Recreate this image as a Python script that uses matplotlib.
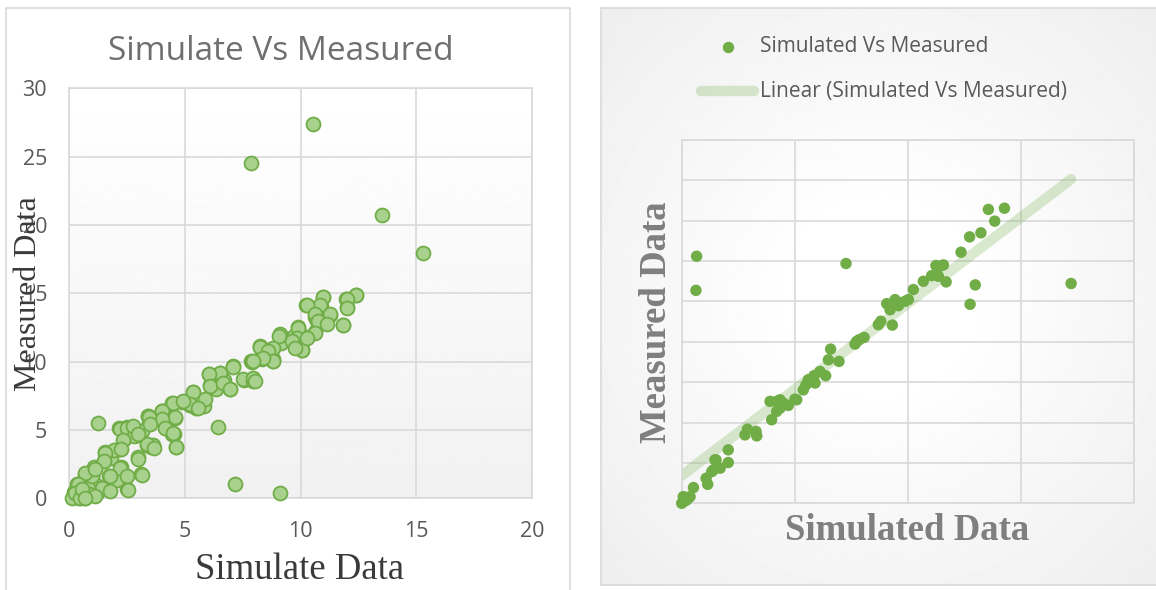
import numpy as np
import matplotlib
matplotlib.use("Agg")
import matplotlib.pyplot as plt
from matplotlib.patches import Rectangle
from matplotlib.lines import Line2D

# ---------------- data ----------------
left_title = "Simulate Vs Measured"
left_xlabel = "Simulate Data"
left_ylabel = "Measured Data"
left_xticks = [0, 5, 10, 15, 20]
left_yticks = [0, 5, 10, 15, 20, 25, 30]

left_x = [10.53, 7.87, 13.5, 15.28, 1.25, 6.43, 7.15, 9.1, 4.6, 4.46, 3.12, 2.51,
          12.4, 11.95, 12.0, 10.96, 10.88, 10.24, 10.6, 11.28, 10.72, 11.1, 11.82, 10.6,
          9.89, 9.71, 10.1, 9.09, 9.74, 10.05, 9.15, 8.24, 8.61, 8.8, 8.35, 7.87, 7.95,
          7.55, 7.07, 6.93, 6.69, 6.5, 6.06, 6.32, 6.1, 5.82, 5.34, 5.23, 5.47, 4.86, 4.46,
          4.54, 3.99, 3.98, 3.39, 3.44, 4.19, 2.94, 2.8, 2.51, 2.16, 2.35, 2.19, 2.96, 3.34,
          3.55, 3.63, 1.52, 1.55, 1.79, 1.95, 2.24, 2.46, 2.06, 1.73, 1.39, 1.07, 0.99, 0.7,
          1.15, 1.18, 0.8, 0.35, 0.19, 0.43, 0.11, 0.7,
          4.44, 5.23, 4.01, 4.58, 3.4, 3.46, 2.21, 2.49, 2.78, 2.32, 3.14, 3.36, 3.64, 4.51,
          4.61, 2.25, 1.53, 1.49, 2.97, 3.14, 2.21, 2.49, 1.77, 0.98, 0.69, 1.12, 1.41, 1.77,
          2.53, 0.38, 0.23, 0.48, 0.83, 1.12, 0.55, 0.69,
          9.11, 8.24, 8.67, 8.79, 7.89, 8.32, 7.08, 6.51, 6.06, 6.09, 6.66, 6.94, 7.52, 7.95,
          5.36, 5.86, 5.22, 5.58, 4.5, 4.93, 4.57, 3.99, 3.99, 3.46, 3.49, 4.13, 4.5, 2.77, 2.98,
          12.39, 11.99, 12.02, 10.95, 10.84, 10.26, 10.62, 11.27, 10.76, 11.13, 11.82, 10.62,
          9.89, 9.83, 9.61, 10.05, 9.75, 10.29, 9.08, 8.81, 8.24, 8.6, 8.79, 8.39, 7.95, 7.95, 8.03]
left_y = [27.39, 24.5, 20.7, 17.97, 5.5, 5.2, 1.02, 0.39, 3.77, 4.73, 1.76, 0.69,
          14.86, 14.59, 14.0, 14.75, 14.1, 14.15, 13.27, 13.4, 12.94, 12.8, 12.69, 12.17,
          12.52, 11.84, 11.84, 11.95, 11.15, 10.85, 11.34, 11.09, 10.82, 10.16, 10.32, 10.02, 8.64,
          8.67, 9.66, 7.98, 8.62, 9.17, 9.08, 8.01, 8.26, 6.74, 7.76, 6.85, 6.58, 7.07, 6.94,
          5.97, 6.39, 5.84, 6.03, 5.48, 5.15, 4.6, 4.6, 5.23, 5.15, 4.32, 3.63, 3.0, 3.91,
          3.72, 3.91, 2.72, 3.36, 2.95, 3.5, 2.31, 1.62, 1.35, 1.62, 0.74, 2.26, 1.62, 1.79,
          0.94, 0.41, 0.74, 1.02, 0.47, 0.05, 0.05, 0.05,
          6.88, 6.8, 6.39, 5.9, 6.02, 5.41, 5.1, 5.17, 4.56, 4.27, 4.92, 3.95, 3.71, 4.68,
          3.78, 3.58, 3.34, 2.73, 2.9, 1.68, 2.25, 1.63, 1.63, 1.63, 1.88, 2.12, 0.78, 0.53,
          0.61, 1.02, 0.42, 0.05, 0.29, 0.17, 0.66, 0.0,
          12.0, 11.14, 10.78, 10.04, 9.97, 10.17, 9.63, 9.2, 9.07, 8.22, 8.46, 7.97, 8.7, 8.58,
          7.78, 7.24, 6.88, 6.63, 6.95, 7.12, 5.98, 6.39, 5.78, 5.98, 5.41, 5.17, 4.8, 5.29, 4.68,
          14.85, 14.61, 13.95, 14.75, 14.12, 14.12, 13.46, 13.46, 12.97, 12.73, 12.66, 12.12,
          12.49, 11.76, 11.51, 10.85, 11.02, 11.76, 11.87, 11.02, 11.1, 10.78, 10.04, 10.29, 10.04, 8.83, 8.58]

right_series = "Simulated Vs Measured"
right_trend_label = "Linear (Simulated Vs Measured)"
right_xlabel = "Simulated Data"
right_ylabel = "Measured Data"

right_x = [0.66, 0.63, 7.27, 17.23, 13.57, 14.28, 13.85, 12.74, 13.24, 12.36, 11.25, 11.58,
           11.43, 10.69, 11.06, 11.36, 11.7, 10.25, 10.03, 9.66, 9.44, 9.07, 9.22, 12.99, 12.76,
           9.32, 8.7, 8.81, 8.07, 7.86, 7.67, 7.74, 6.59, 6.49, 6.96, 6.37, 6.12, 5.86, 5.6, 5.5,
           5.38, 5.9, 5.01, 4.72, 4.5, 4.35, 4.2, 3.91, 3.98, 3.29, 3.32, 2.91, 2.8, 2.06, 2.06,
           1.52, 1.4, 1.7, 1.08, 1.15, 0.52, 0.29, 0.19, 0.07, 0.0, 0.37, 0.15,
           9.59, 9.88, 4.35, 5.09, 4.2, 1.47, 1.33, 0.07, 0.22]
right_y = [12.24, 10.55, 11.88, 10.89, 14.56, 14.62, 13.98, 13.2, 13.4, 12.44, 11.78, 11.81,
           11.75, 11.0, 11.28, 11.25, 10.97, 10.59, 10.09, 9.93, 10.09, 9.89, 9.59, 10.82, 9.86,
           8.83, 8.85, 9.02, 8.22, 8.11, 7.89, 8.02, 7.64, 7.11, 7.03, 6.32, 6.53, 6.32, 6.12, 5.87,
           5.62, 5.96, 5.16, 4.85, 4.96, 4.71, 5.05, 5.05, 4.14, 3.56, 3.34, 3.67, 3.39, 2.65, 2.02,
           2.15, 1.65, 1.74, 1.24, 0.94, 0.78, 0.25, 0.17, 0.08, 0.0, 0.33, 0.13,
           9.79, 10.01, 5.13, 5.13, 4.55, 2.15, 1.57, 0.33, 0.17]

# ---------------- figure ----------------
W, H = 1156, 590
fig = plt.figure(figsize=(W / 100, H / 100), dpi=100)
fig.patch.set_facecolor("white")

def fx(px):
    return px / W

def fy(py):
    return 1 - py / H

GRID = "#d9d9d9"
TXT = "#595959"
SANS = ["Open Sans", "DejaVu Sans"]
SERIF = ["Liberation Serif", "DejaVu Serif"]

# left panel frame
fig.add_artist(Rectangle((fx(5.5), fy(600)), fx(570) - fx(5.5), fy(7.5) - fy(600),
                         transform=fig.transFigure, fill=False, edgecolor=GRID, lw=1.2))

# right panel background (radial gradient)
bg = fig.add_axes([fx(601), fy(585), fx(1162) - fx(601), fy(8) - fy(585)], zorder=0)
yy, xx = np.mgrid[-1:1:300j, -1:1:300j]
rr = np.sqrt(xx ** 2 + yy ** 2)
grad = np.clip(1 - 0.06 * np.clip(rr - 0.3, 0, None), 0, 1)
bg.imshow(grad, cmap="gray", vmin=0, vmax=1, extent=[0, 1, 0, 1], aspect="auto",
          interpolation="bilinear")
bg.set_xticks([]); bg.set_yticks([])
for s in bg.spines.values():
    s.set_color(GRID); s.set_linewidth(1.2)

# ---------------- left chart ----------------
axL = fig.add_axes([fx(69.3), fy(498.3), fx(532) - fx(69.3), fy(88.3) - fy(498.3)], zorder=2)
vgrad = np.linspace(0.945, 1.0, 256).reshape(-1, 1)
axL.imshow(vgrad, cmap="gray", vmin=0, vmax=1, extent=[0, 1, 0, 1], origin="lower",
           transform=axL.transAxes, aspect="auto", zorder=0, interpolation="bilinear")
axL.scatter(left_x, left_y, s=100, facecolor="#a9d18e", edgecolor="#70ad47",
            linewidths=1.3, zorder=3, clip_on=False)
axL.set_xlim(0, 20)
axL.set_ylim(0, 30)
axL.set_xticks(left_xticks)
axL.set_yticks(left_yticks)
axL.grid(True, color=GRID, lw=1.2, zorder=1)
axL.set_axisbelow(True)
axL.tick_params(length=0, labelsize=15.5, labelcolor=TXT, pad=16)
for lab in axL.get_xticklabels() + axL.get_yticklabels():
    lab.set_family(SANS)
for s in axL.spines.values():
    s.set_color(GRID); s.set_linewidth(1.2)
fig.text(fx(281), fy(51), left_title, ha="center", va="center", fontsize=24,
         color="#6f6f6f", family=SANS)
fig.text(fx(300), fy(570), left_xlabel, ha="center", va="center", fontsize=26.5,
         color="#3a3a3a", family=SERIF)
fig.text(fx(29), fy(294), left_ylabel, ha="center", va="center", fontsize=23,
         rotation=90, color="#3a3a3a", family=SERIF, zorder=10)

# ---------------- right chart ----------------
axR = fig.add_axes([fx(681.7), fy(503.3), fx(1133.7) - fx(681.7), fy(140) - fy(503.3)],
                   zorder=2)
axR.patch.set_alpha(0)
axR.set_xlim(0, 20)
axR.set_ylim(0, 18)
axR.set_xticks(np.arange(0, 21, 5))
axR.set_yticks(np.arange(0, 19, 2))
axR.tick_params(length=0, labelbottom=False, labelleft=False)
axR.grid(True, color=GRID, lw=1.2, zorder=1)
axR.set_axisbelow(True)
for s in axR.spines.values():
    s.set_color(GRID); s.set_linewidth(1.2)

rx = np.array(right_x); ry = np.array(right_y)
slope, intercept = np.polyfit(rx, ry, 1)
tx = np.array([rx.min(), rx.max()])
axR.plot(tx, slope * tx + intercept, color="#70ad47", alpha=0.26, lw=7.5,
         solid_capstyle="round", zorder=2)
axR.scatter(rx, ry, s=68, color="#70ad47", edgecolor="none", zorder=3, clip_on=False)

fig.text(fx(907), fy(530), right_xlabel, ha="center", va="center", fontsize=26.5,
         fontweight="bold", color="#7f7f7f", family=SERIF)
fig.text(fx(657), fy(322), right_ylabel, ha="center", va="center", fontsize=26.5,
         fontweight="bold", rotation=90, color="#7f7f7f", family=SERIF)

# legend (manual)
fig.add_artist(Line2D([fx(728)], [fy(47)], marker="o", markersize=8.2, color="#70ad47",
                      markeredgecolor="none", linestyle="none", transform=fig.transFigure))
fig.text(fx(760), fy(47), right_series, ha="left", va="center", fontsize=15,
         color=TXT, family=SANS)
fig.add_artist(Line2D([fx(701), fx(754)], [fy(91), fy(91)], color="#70ad47", alpha=0.26,
                      lw=7.5, solid_capstyle="round", transform=fig.transFigure))
fig.text(fx(760), fy(91), right_trend_label, ha="left", va="center", fontsize=15,
         color=TXT, family=SANS)

fig.savefig("out.png", dpi=100)
